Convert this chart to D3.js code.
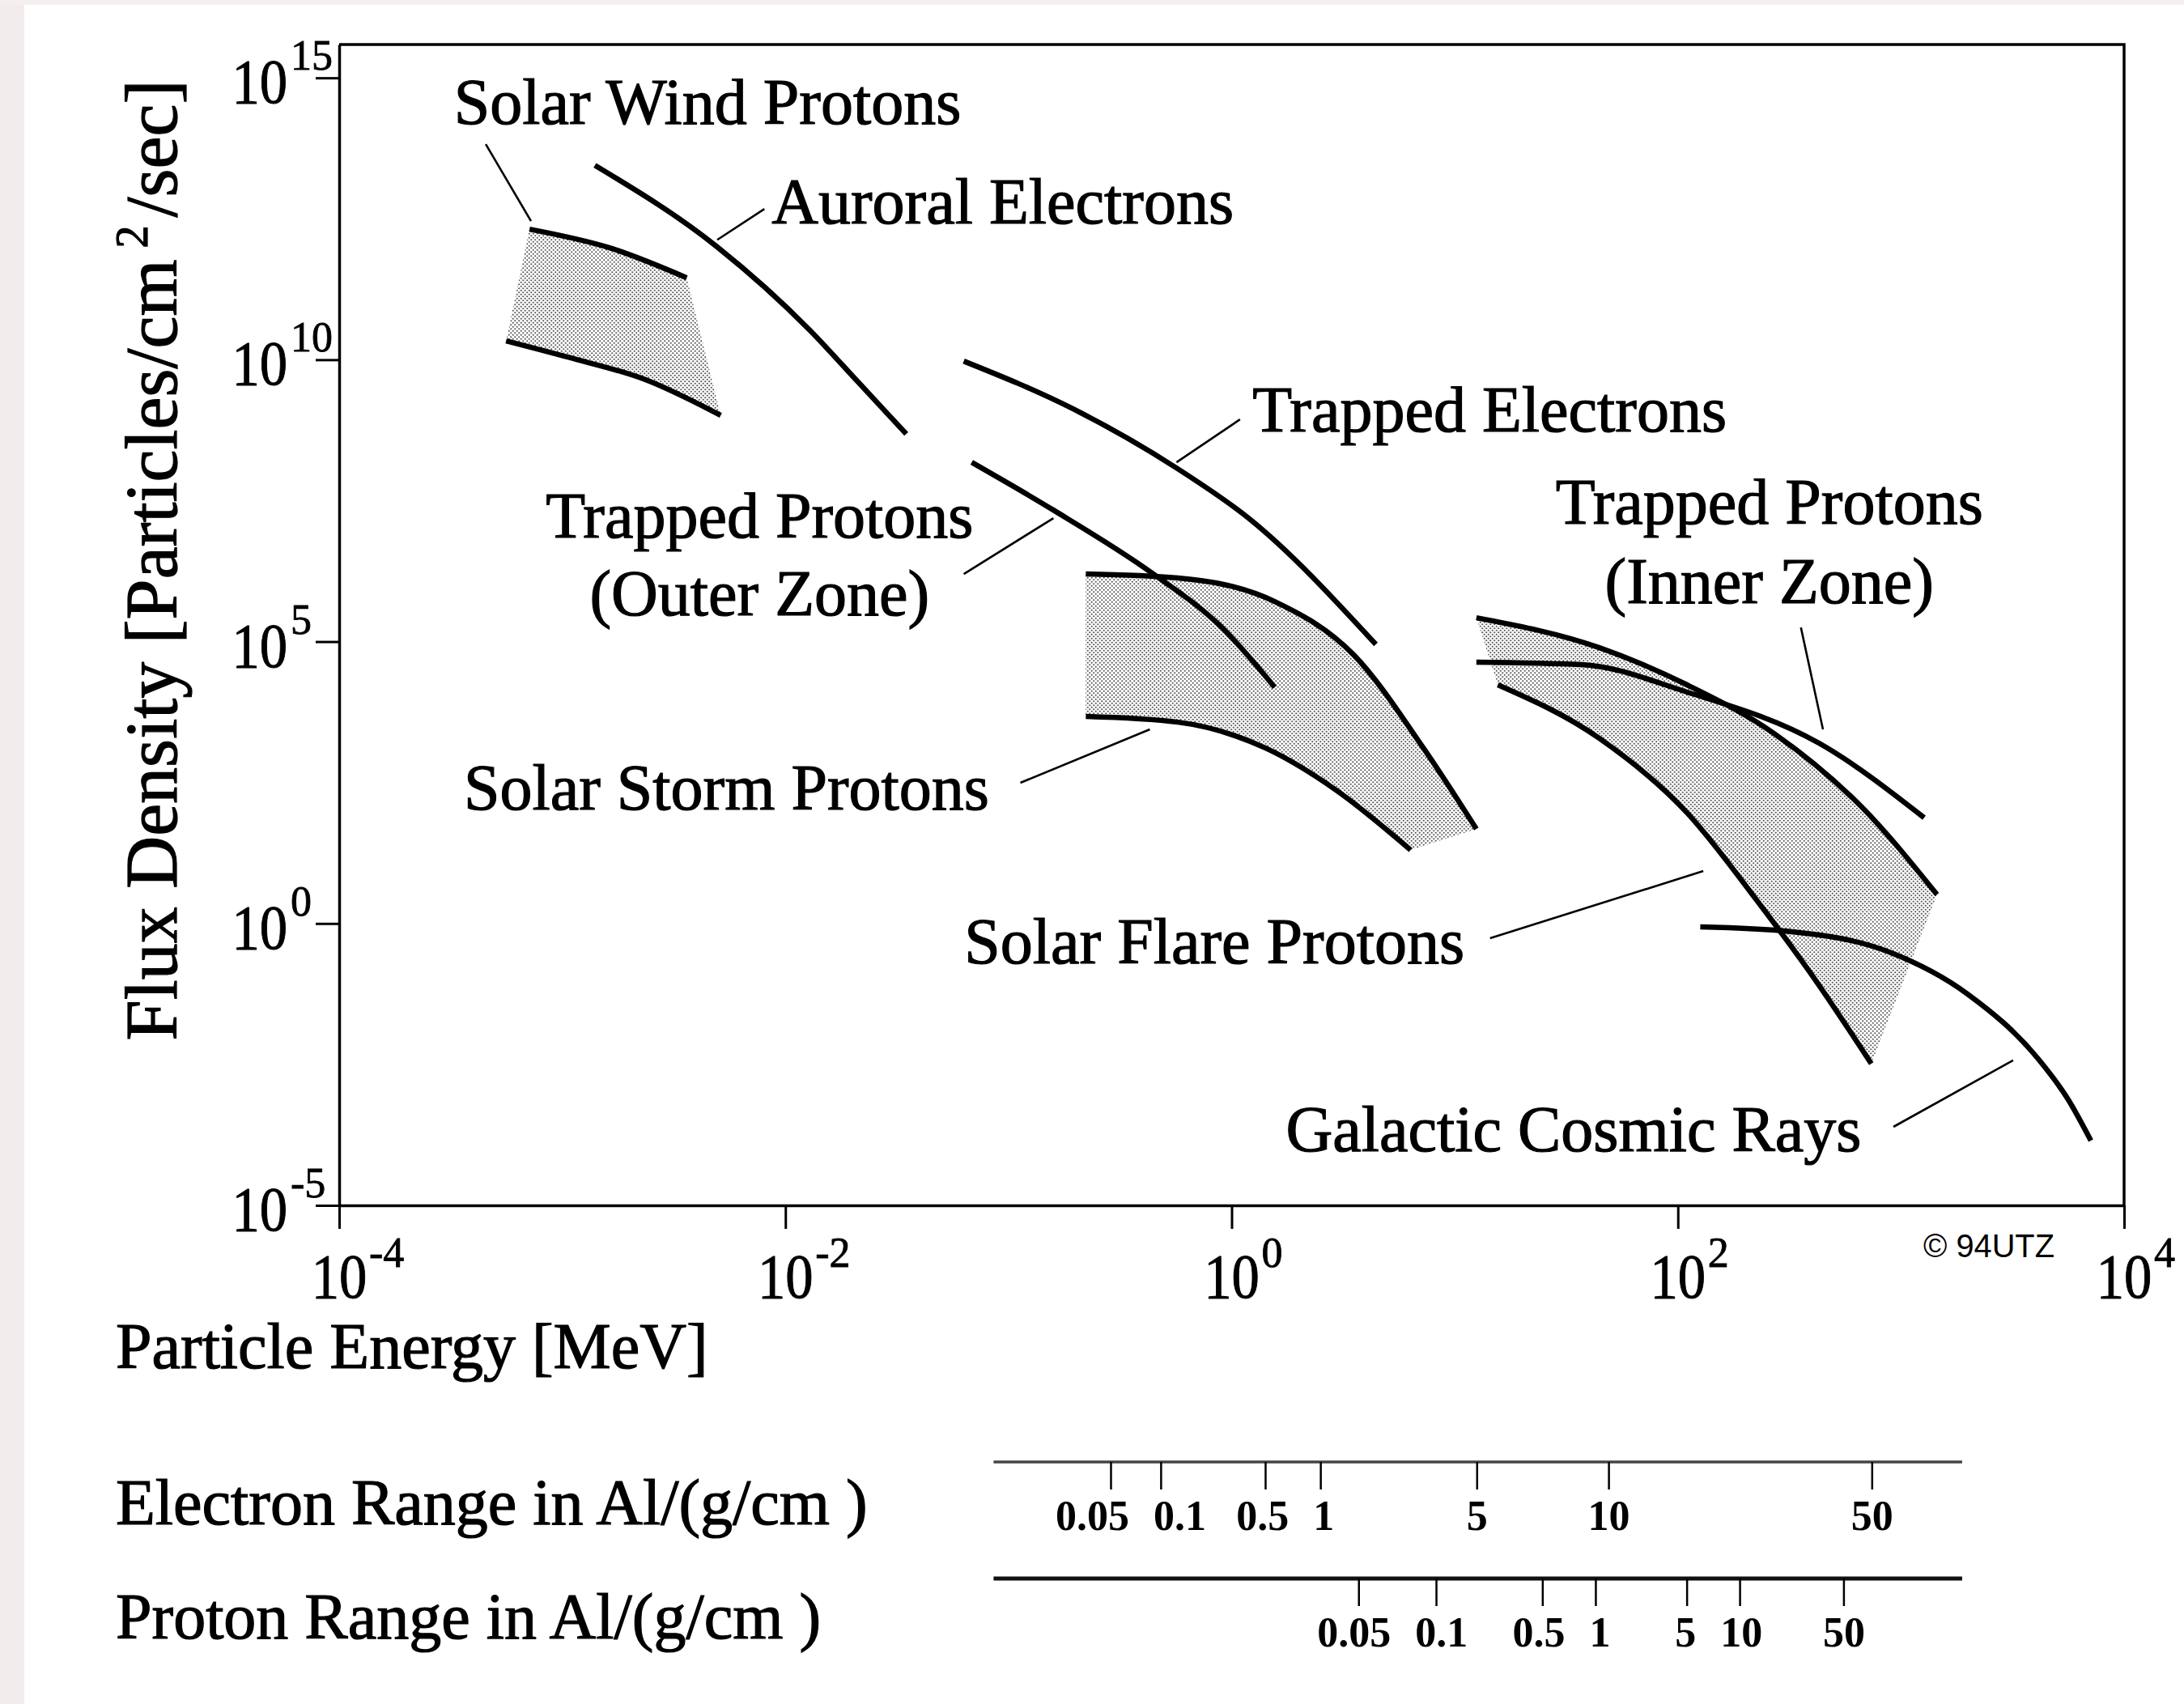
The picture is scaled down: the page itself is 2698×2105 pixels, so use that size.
<!DOCTYPE html>
<html>
<head>
<meta charset="utf-8">
<script src="https://cdnjs.cloudflare.com/ajax/libs/d3/7.8.5/d3.min.js"></script>
<style>
body { margin: 0; background: #fff; }
text { font-family: "Liberation Serif", "Times New Roman", serif; fill: #000; }
</style>
</head>
<body>
<script>

// ---- values: [energy MeV, flux particles/cm2/sec] ----
var solarWindTop    = [[7.13e-4, 2.07e12], [1.63e-3, 9.66e11], [3.61e-3, 2.84e11]];
var solarWindBottom = [[5.60e-4, 2.16e10], [1.06e-3, 1.11e10], [2.36e-3, 4.42e9], [5.13e-3, 1.03e9]];

var auroralElectrons = [[1.40e-3, 2.81e13], [4.95e-3, 1.0e12], [1.29e-2, 3.31e10], [2.12e-2, 4.00e9], [3.48e-2, 4.82e8]];

var trappedElectrons = [[6.30e-2, 9.44e9], [0.195, 1.34e9], [0.566, 1.20e8], [1.19, 1.55e7], [4.43, 8.91e4]];

var trappedProtonsOuter = [[6.84e-2, 1.51e8], [0.159, 2.15e7], [0.441, 1.63e6], [0.904, 1.78e5], [1.56, 1.55e4]];

var solarStormTop    = [[0.222, 1.58e6], [0.575, 1.34e6], [1.56, 5.14e5], [3.53, 5.79e4], [7.24, 1.29e3], [12.5, 47.4]];
var solarStormBottom = [[0.222, 4.70e3], [0.575, 3.72e3], [1.42, 1.29e3], [2.94, 232], [6.34, 20.1]];

var solarFlareTop    = [[12.5, 2.65e5], [44.5, 7.80e4], [110, 1.71e4], [273, 2.27e3], [673, 112], [1450, 3.26]];
var solarFlareBottom = [[15.6, 1.71e4], [44.5, 1.92e3], [110, 91.8], [227, 2.50], [429, 0.0804], [736, 3.26e-3]];

var trappedProtonsInner = [[12.5, 4.31e4], [37.0, 3.90e4], [110, 1.27e4], [429, 1.58e3], [1270, 75.3]];

var galacticCosmicRays = [[126, 0.869], [325, 0.713], [885, 0.312], [1990, 0.0558], [4120, 3.97e-3], [5600, 7.69e-4], [7100, 1.41e-4]];

// labels and their leader lines (anchor points in energy / flux)
var labelText = ["Solar Wind Protons", "Auroral Electrons", "Trapped Electrons",
                 "Trapped Protons", "(Outer Zone)", "Trapped Protons", "(Inner Zone)",
                 "Solar Storm Protons", "Solar Flare Protons", "Galactic Cosmic Rays"];
var labelAt = [[3.27e-4, 1.52e14], [8.67e-3, 2.61e12], [1.24, 5.32e8],
               [7.66e-3, 7.00e6], [7.66e-3, 2.93e5], [257, 1.23e7], [257, 4.81e5],
               [3.62e-4, 105], [6.34e-2, 0.196], [1.75, 9.16e-5]];
var leaders = [
    [[4.54e-4, 6.65e13], [7.24e-4, 2.88e12]],   // solar wind
    [[4.95e-3, 1.34e12], [8.05e-3, 4.72e12]],   // auroral
    [[0.566, 1.51e8], [1.09, 8.73e8]],          // trapped electrons
    [[6.30e-2, 1.58e6], [0.159, 1.55e7]],       // trapped protons outer
    [[0.113, 313], [0.430, 2.77e3]],            // solar storm
    [[14.4, 0.547], [130, 8.51]],               // solar flare
    [[356, 1.78e5], [447, 2.77e3]],             // trapped protons inner
    [[925, 2.47e-4], [3180, 3.72e-3]]           // cosmic rays
];

// axis ticks (powers of ten)
var xTickExp = [-4, -2, 0, 2, 4];
var yTickExp = [15, 10, 5, 0, -5];

// range in aluminium, placed at the equivalent particle energy (MeV)
var rangeLabels = ["0.05", "0.1", "0.5", "1", "5", "10", "50"];
var electronRangeEnergy = [0.288, 0.483, 1.42, 2.51, 12.6, 49.1, 743];
var protonRangeEnergy = [3.72, 8.28, 24.8, 42.9, 110, 190, 555];
var rangeScaleExtent = [0.0857, 1880];


function plot_it() {

    var width = 2698, height = 2105;

    var svg = d3.select("body").append("svg")
        .attr("width", width)
        .attr("height", height);

    svg.append("rect").attr("width", width).attr("height", height).attr("fill", "#fff");
    // faded edge of the scan
    svg.append("rect").attr("x", 0).attr("y", 0).attr("width", 30).attr("height", height).attr("fill", "#f3ecec");
    svg.append("rect").attr("x", 0).attr("y", 0).attr("width", width).attr("height", 6).attr("fill", "#f6efef");

    var plotLeft = 419, plotRight = 2624, plotTop = 55, plotBottom = 1489;

    var x = d3.scaleLog().domain([1e-4, 1e4]).range([plotLeft, plotRight]);
    var y = d3.scaleLog().domain([1e-5, 3.9e15]).range([plotBottom, plotTop]);

    // stipple pattern for the shaded bands
    var pat = svg.append("defs").append("pattern")
        .attr("id", "stipple").attr("patternUnits", "userSpaceOnUse")
        .attr("width", 5).attr("height", 5);
    pat.append("rect").attr("width", 5).attr("height", 5).attr("fill", "#fff");
    pat.append("circle").attr("cx", 1.25).attr("cy", 1.25).attr("r", 1.1).attr("fill", "#555");
    pat.append("circle").attr("cx", 3.75).attr("cy", 3.75).attr("r", 1.1).attr("fill", "#555");

    var line = d3.line()
        .x(function(d) { return x(d[0]); })
        .y(function(d) { return y(d[1]); })
        .curve(d3.curveMonotoneX);

    var bandPath = function(upper, lower) {
        var a = line(upper);
        var b = line(lower.slice().reverse());
        return a + "L" + b.slice(1) + "Z";
    };

    // shaded bands
    var bands = [[solarWindTop, solarWindBottom], [solarStormTop, solarStormBottom], [solarFlareTop, solarFlareBottom]];
    svg.selectAll(".band").data(bands).enter().append("path")
        .attr("class", "band")
        .attr("d", function(d) { return bandPath(d[0], d[1]); })
        .attr("fill", "url(#stipple)")
        .attr("stroke", "none");

    // heavy curves
    var curves = [solarWindTop, solarWindBottom, auroralElectrons, trappedElectrons, trappedProtonsOuter,
                  solarStormTop, solarStormBottom, solarFlareTop, solarFlareBottom, trappedProtonsInner,
                  galacticCosmicRays];
    svg.selectAll(".curve").data(curves).enter().append("path")
        .attr("class", "curve")
        .attr("d", line)
        .attr("fill", "none")
        .attr("stroke", "#000")
        .attr("stroke-width", 6.5)
        .attr("stroke-linecap", "butt");

    // leader lines
    svg.selectAll(".leader").data(leaders).enter().append("line")
        .attr("class", "leader")
        .attr("x1", function(d) { return x(d[0][0]); })
        .attr("y1", function(d) { return y(d[0][1]); })
        .attr("x2", function(d) { return x(d[1][0]); })
        .attr("y2", function(d) { return y(d[1][1]); })
        .attr("stroke", "#000")
        .attr("stroke-width", 2.6);

    // curve labels, the two-line ones are centred
    var centred = [3, 4, 5, 6];
    svg.selectAll(".label").data(labelText).enter().append("text")
        .attr("class", "label")
        .attr("x", function(d, i) { return x(labelAt[i][0]); })
        .attr("y", function(d, i) { return y(labelAt[i][1]); })
        .attr("text-anchor", function(d, i) { return centred.indexOf(i) >= 0 ? "middle" : "start"; })
        .attr("font-size", 80)
        .attr("stroke", "#000").attr("stroke-width", 1.2)
        .text(function(d) { return d; });

    // axes: ticks point outwards
    var tickSize = 29;
    svg.append("g")
        .attr("transform", "translate(0," + plotBottom + ")")
        .call(d3.axisBottom(x).tickValues(xTickExp.map(function(e) { return Math.pow(10, e); }))
            .tickSize(tickSize).tickSizeOuter(0).tickFormat(""))
        .call(function(g) {
            g.select(".domain").attr("stroke-width", 3.5);
            g.selectAll(".tick line").attr("stroke-width", 3);
        });

    svg.append("g")
        .attr("transform", "translate(" + plotLeft + ",0)")
        .call(d3.axisLeft(y).tickValues(yTickExp.map(function(e) { return Math.pow(10, e); }))
            .tickSize(tickSize).tickSizeOuter(0).tickFormat(""))
        .call(function(g) {
            g.select(".domain").attr("stroke-width", 3.5);
            g.selectAll(".tick line").attr("stroke-width", 3);
        });

    // top and right border
    svg.append("path")
        .attr("d", "M" + plotLeft + "," + plotTop + "H" + plotRight + "V" + plotBottom)
        .attr("fill", "none").attr("stroke", "#000").attr("stroke-width", 3.5);

    // tick labels: a narrow "10" with a raised exponent
    svg.selectAll(".xbase").data(xTickExp).enter().append("text")
        .attr("transform", function(d) { return "translate(" + x(Math.pow(10, d)) + "," + (plotBottom + 114) + ") scale(0.88,1)"; })
        .attr("text-anchor", "middle").attr("font-size", 78)
        .attr("stroke", "#000").attr("stroke-width", 1)
        .text("10");
    svg.selectAll(".xexp").data(xTickExp).enter().append("text")
        .attr("x", function(d) { return x(Math.pow(10, d)) + 37; })
        .attr("y", plotBottom + 76)
        .attr("font-size", 52)
        .attr("stroke", "#000").attr("stroke-width", 0.8)
        .text(function(d) { return d; });

    svg.selectAll(".ybase").data(yTickExp).enter().append("text")
        .attr("transform", function(d) { return "translate(" + (plotLeft - 64) + "," + (y(Math.pow(10, d)) + 31) + ") scale(0.88,1)"; })
        .attr("text-anchor", "end").attr("font-size", 78)
        .attr("stroke", "#000").attr("stroke-width", 1)
        .text("10");
    svg.selectAll(".yexp").data(yTickExp).enter().append("text")
        .attr("x", plotLeft - 60)
        .attr("y", function(d) { return y(Math.pow(10, d)) - 10; })
        .attr("font-size", 52)
        .attr("stroke", "#000").attr("stroke-width", 0.8)
        .text(function(d) { return d; });

    // y axis title
    var yTitle = svg.append("text")
        .attr("transform", "translate(218,692) rotate(-90)")
        .attr("text-anchor", "middle").attr("font-size", 90)
        .attr("stroke", "#000").attr("stroke-width", 1.2);
    yTitle.append("tspan").text("Flux Density [Particles/cm");
    yTitle.append("tspan").attr("dx", 14).attr("dy", -36).attr("font-size", 56).text("2");
    yTitle.append("tspan").attr("dx", 10).attr("dy", 36).text("/sec]");

    // bottom titles
    var bottomTitles = ["Particle Energy [MeV]", "Electron Range in Al/(g/cm )", "Proton Range in Al/(g/cm )"];
    var bottomY = [1690, 1883, 2024];
    svg.selectAll(".btitle").data(bottomTitles).enter().append("text")
        .attr("x", 143)
        .attr("y", function(d, i) { return bottomY[i]; })
        .attr("font-size", 80)
        .attr("stroke", "#000").attr("stroke-width", 1.2)
        .style("white-space", "pre")
        .text(function(d) { return d; });

    // push crowded range labels apart, keeping them near their ticks
    var spreadLabels = function(sel, gap) {
        var items = sel.nodes().map(function(n) {
            return { n: n, cx: +n.getAttribute("x"), w: n.getComputedTextLength() };
        });
        for (var it = 0; it < 60; it++) {
            for (var i = 0; i < items.length - 1; i++) {
                var a = items[i], b = items[i + 1];
                var overlap = (a.cx + a.w / 2 + gap) - (b.cx - b.w / 2);
                if (overlap > 0) { a.cx -= overlap / 2; b.cx += overlap / 2; }
            }
        }
        items.forEach(function(d) { d.n.setAttribute("x", d.cx); });
    };

    // range scales under the chart
    var rangeRows = [
        { energy: electronRangeEnergy, y: 1806, width: 3.5, color: "#444" },
        { energy: protonRangeEnergy, y: 1950, width: 5, color: "#111" }
    ];
    rangeRows.forEach(function(row) {
        var g = svg.append("g");
        g.append("line")
            .attr("x1", x(rangeScaleExtent[0])).attr("x2", x(rangeScaleExtent[1]))
            .attr("y1", row.y).attr("y2", row.y)
            .attr("stroke", row.color).attr("stroke-width", row.width);
        g.selectAll("line.rt").data(row.energy).enter().append("line")
            .attr("class", "rt")
            .attr("x1", function(d) { return x(d); }).attr("x2", function(d) { return x(d); })
            .attr("y1", row.y).attr("y2", row.y + 34)
            .attr("stroke", "#000").attr("stroke-width", 2.5);
        var labels = g.selectAll("text").data(row.energy).enter().append("text")
            .attr("x", function(d) { return x(d); })
            .attr("y", row.y + 84)
            .attr("text-anchor", "middle")
            .attr("font-size", 52).attr("font-weight", "bold")
            .text(function(d, i) { return rangeLabels[i]; });
        spreadLabels(labels, 30);
    });

    // copyright mark
    svg.append("text")
        .attr("x", 2376).attr("y", 1553)
        .attr("font-size", 40)
        .attr("textLength", 162).attr("lengthAdjust", "spacingAndGlyphs")
        .style("font-family", "'Liberation Sans Narrow', 'Liberation Sans', sans-serif")
        .text("\u00a9 94UTZ");
}

plot_it();
</script>
</body>
</html>
